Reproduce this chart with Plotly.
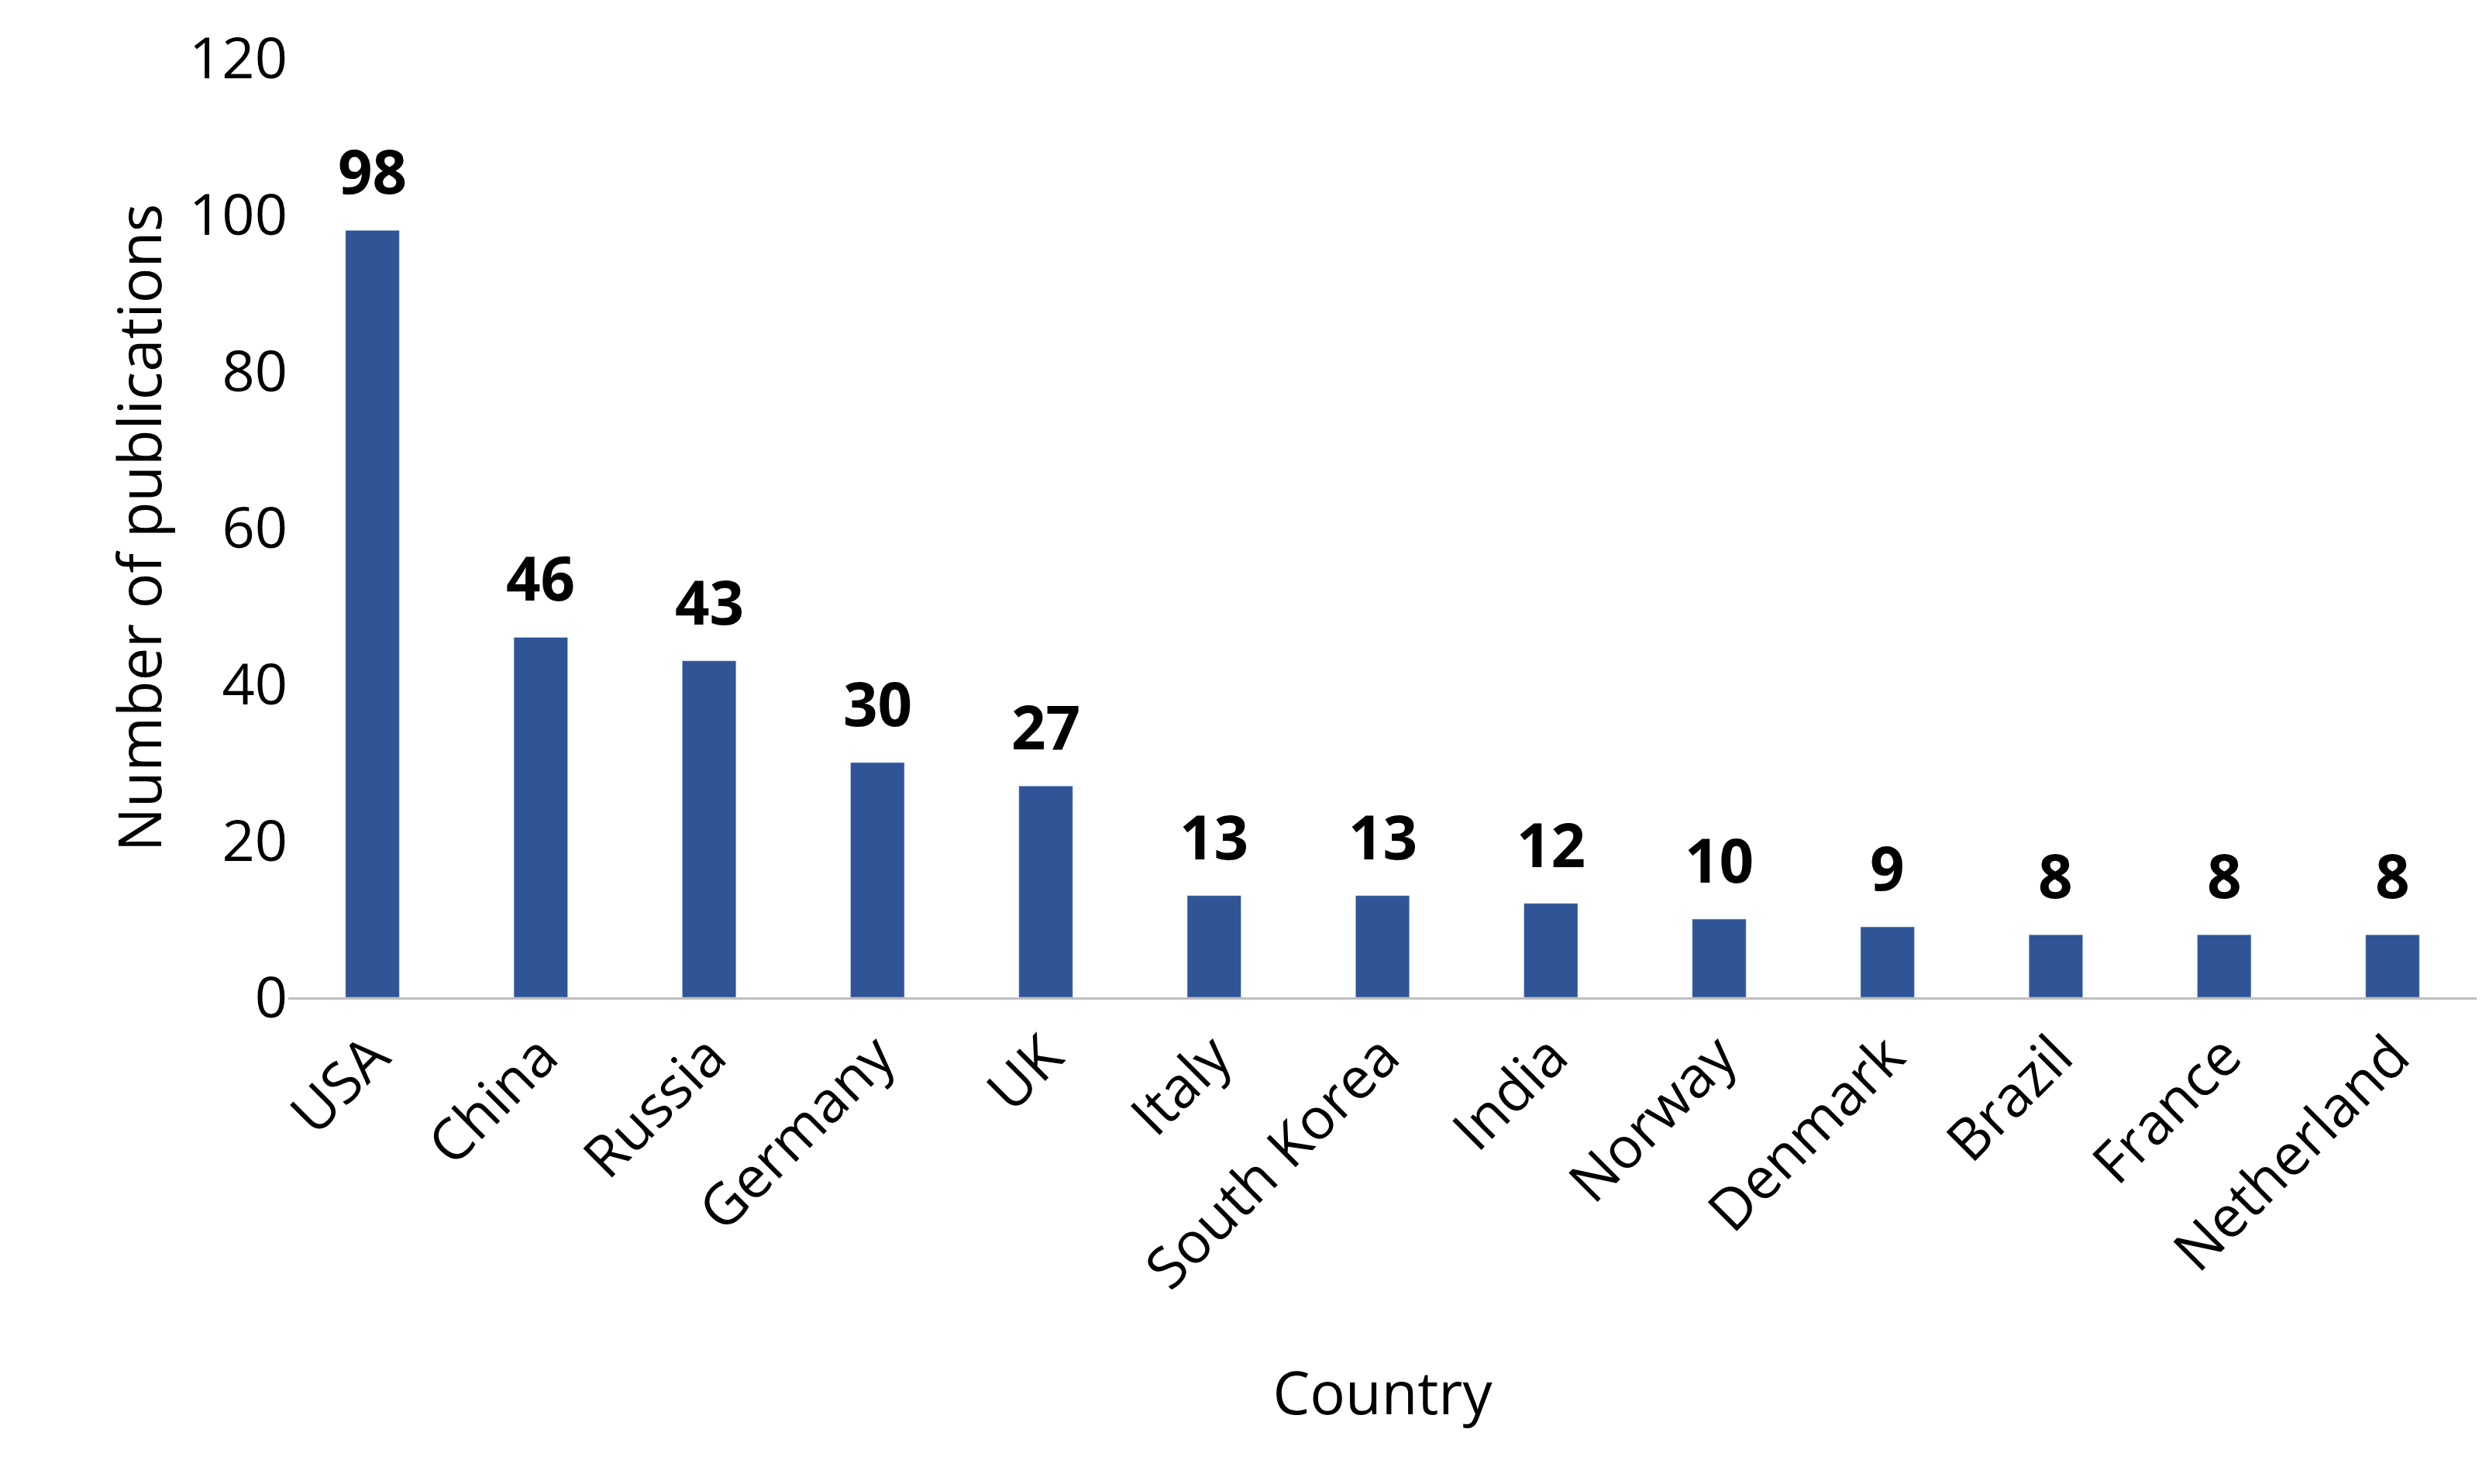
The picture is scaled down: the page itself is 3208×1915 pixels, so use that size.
import plotly.graph_objects as go

countries = ["USA","China","Russia","Germany","UK","Italy","South Korea","India","Norway","Denmark","Brazil","France","Netherland"]
pubs = [98,46,43,30,27,13,13,12,10,9,8,8,8]

fig = go.Figure(go.Bar(x=countries, y=pubs, marker_color="#2F5597", width=0.32))
for c, v in zip(countries, pubs):
    fig.add_annotation(x=c, y=v, text=f"<b>{v}</b>", showarrow=False, yanchor="bottom",
                       yshift=22, font=dict(size=78, color="black", family="Open Sans"))
fig.update_layout(width=3208, height=1915, plot_bgcolor="white", paper_bgcolor="white",
    margin=dict(l=364, r=20, t=67, b=636), showlegend=False,
    font=dict(family="Open Sans", size=74, color="black"))
fig.update_xaxes(title_text="Country", title_font_size=76, tickangle=-45, showline=True,
    linecolor="#BFBFBF", linewidth=3, ticks="", title_standoff=90)
fig.update_yaxes(title_text="Number of publications", title_font_size=76, range=[0,120],
    dtick=20, showgrid=False, zeroline=False, ticks="", title_standoff=10)
fig.write_html("out.html")
